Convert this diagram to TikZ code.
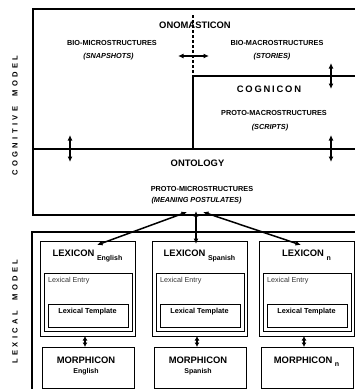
\documentclass[tikz,border=0pt]{standalone}
\usepackage{fontspec}
\setmainfont{Liberation Sans}
\usetikzlibrary{arrows.meta}
\newcommand\sk{\kern3.4pt}
\newcommand\ck{\kern1.8pt}
\tikzset{
  x=1pt, y=-1pt,
  big/.style={font=\bfseries\fontsize{9.4}{10}\selectfont, inner sep=0pt},
  small/.style={font=\bfseries\fontsize{7.3}{8}\selectfont, inner sep=0pt},
  smallit/.style={font=\bfseries\itshape\fontsize{7.3}{8}\selectfont, inner sep=0pt},
  plain/.style={font=\fontsize{7.2}{8}\selectfont, inner sep=0pt, text=black!80},
  side/.style={font=\bfseries\fontsize{7.6}{8}\selectfont, inner sep=0pt, rotate=90},
  frame/.style={line width=2pt},
  divider/.style={line width=1.3pt},
  dbl/.style={{Latex[length=5.5pt,width=5pt]}-{Latex[length=5.5pt,width=5pt]}, line width=1.5pt},
  sdbl/.style={{Latex[length=4.5pt,width=5pt]}-{Latex[length=4.5pt,width=5pt]}, line width=1.6pt},
  box/.style={draw, line width=0.9pt, inner sep=0pt, anchor=north west},
}
\newcommand\sub[1]{\raisebox{-3.5pt}{\fontsize{7}{8}\selectfont #1}}
\begin{document}
\begin{tikzpicture}
\useasboundingbox (0,0) rectangle (355,389);
\clip (0,0) rectangle (355,389);
% ---- cognitive model
\draw[frame] (362,9) -- (33,9) -- (33,215) -- (362,215);
\draw[divider, dash pattern=on 3pt off 2pt] (193,15) -- (193,76);
\draw[divider] (193,76) -- (193,149);
\draw[divider] (193,76) -- (362,76);
\draw[divider] (33,149) -- (362,149);

\node[side] (cogm) at (15,115.5) {C\sk O\sk G\sk N\sk I\sk T\sk I\sk V\sk E\sk\sk\sk M\sk O\sk D\sk E\sk L};
\node[side] (lexm) at (15,311.5) {L\sk E\sk X\sk I\sk C\sk A\sk L\sk\sk\sk M\sk O\sk D\sk E\sk L};

\node[big] (onom) at (195,25) {ONOMASTICON};
\node[small] (bmi) at (112,43) {BIO-MICROSTRUCTURES};
\node[smallit] (snap) at (108.5,57) {(SNAPSHOTS)};
\node[small] (bma) at (277,43) {BIO-MACROSTRUCTURES};
\node[smallit] (stor) at (272,57) {(STORIES)};
\node[big] (cogn) at (269,89) {C\ck O\ck G\ck N\ck I\ck C\ck O\ck N};
\node[small] (pma) at (274,113) {PROTO-MACROSTRUCTURES};
\node[smallit] (scr) at (270,128) {(SCRIPTS)};
\node[big] (onto) at (197.5,163) {ONTOLOGY};
\node[small] (pmi) at (202,189) {PROTO-MICROSTRUCTURES};
\node[smallit] (mp) at (196.5,201) {(MEANING POSTULATES)};

\coordinate (h1) at (178,56); \coordinate (h2) at (209,56);
\coordinate (v1a) at (331,63); \coordinate (v1b) at (331,89);
\coordinate (v2a) at (70,135); \coordinate (v2b) at (70,162);
\coordinate (v3a) at (331,135); \coordinate (v3b) at (331,162);
\draw[dbl] (h1) -- (h2);
\draw[dbl] (v1a) -- (v1b);
\draw[dbl] (v2a) -- (v2b);
\draw[dbl] (v3a) -- (v3b);

% ---- lexical model
\draw[line width=2.5pt] (362,232) -- (32,232) -- (32,400);

\foreach \n/\x/\lang in {E/40/\sub{English}, S/152/\sub{Spanish}, N/259/\sub{n}} {
  \node[box, minimum width=95pt, minimum height=95pt] (lex\n) at (\x,241) {};
  \node[box, minimum width=88pt, minimum height=58pt] (ent\n) at (\x+3.5,273) {};
  \node[box, minimum width=80pt, minimum height=23pt] (tpl\n) at (\x+8,304) {};
  \node[box, minimum width=92pt, minimum height=41pt] (mor\n) at (\x+2,347) {};
  \node[big, anchor=base] (lexl\n) at (\x+47.5,256.5) {LEXICON\hspace{2.5pt}\lang};
  \node[plain, anchor=base west] (entl\n) at (\x+8,282.5) {Lexical Entry};
  \node[small, anchor=base] (tpll\n) at (\x+47.5,313.5) {Lexical Template};
  \coordinate (lt\n) at (\x+45,336);
  \coordinate (mt\n) at (\x+45,347);
  \draw[sdbl] (lt\n) -- (mt\n);
}
\node[big] (morlE) at (86,360) {MORPHICON};
\node[font=\bfseries\fontsize{7}{8}\selectfont, inner sep=0pt] (morsE) at (86,372) {English};
\node[big] (morlS) at (198,360) {MORPHICON};
\node[font=\bfseries\fontsize{7}{8}\selectfont, inner sep=0pt] (morsS) at (198,372) {Spanish};
\node[big, anchor=base] (morlN) at (306.5,363.4) {MORPHICON\hspace{2.5pt}\sub{n}};

% ---- ontology to lexicons
\coordinate (o1) at (187,212); \coordinate (o2) at (196,211); \coordinate (o3) at (203,212);
\coordinate (l1) at (97,245); \coordinate (l2) at (196,244); \coordinate (l3) at (301,245);
\draw[dbl] (o1) -- (l1);
\draw[dbl] (o2) -- (l2);
\draw[dbl] (o3) -- (l3);
\end{tikzpicture}
\end{document}
